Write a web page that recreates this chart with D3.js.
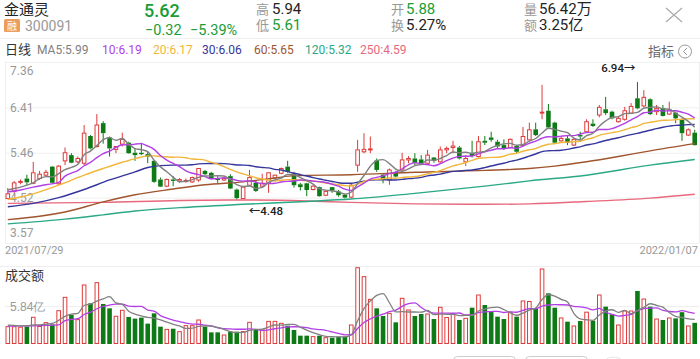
<!DOCTYPE html>
<html><head><meta charset="utf-8">
<script src="https://cdn.jsdelivr.net/npm/d3@7"></script>
<style>
html,body{margin:0;padding:0;background:#fff;}
svg{display:block;font-family:Roboto,"Noto Sans CJK SC",sans-serif;}
</style></head>
<body><svg id="c" width="700" height="359"></svg>
<script>
// ---------------- data ----------------
const opens  = [4.50,4.65,4.84,4.92,4.82,4.92,4.99,5.17,4.81,5.29,5.41,5.27,5.24,5.81,5.59,6.08,5.78,5.53,5.64,5.67,
5.46,5.46,5.43,5.29,4.90,4.76,4.90,4.87,4.86,4.85,4.89,5.08,5.04,4.92,4.89,4.97,4.69,4.50,4.78,4.83,
4.76,4.82,4.93,5.03,5.17,5.03,4.80,4.82,4.69,4.74,4.57,4.74,4.65,4.58,4.53,5.20,5.48,5.52,5.30,5.00,
4.89,5.06,5.10,5.31,5.34,5.32,5.24,5.36,5.27,5.52,5.57,5.57,5.27,5.46,5.38,5.71,5.78,5.69,5.62,5.57,
5.60,5.61,5.73,5.95,6.29,6.34,6.09,5.71,5.76,5.62,5.83,5.90,6.07,6.25,6.37,6.32,6.11,6.16,6.29,6.60,
6.44,6.58,6.32,6.39,6.27,6.30,6.16,5.83,5.88];
const highs  = [4.72,4.87,4.90,5.00,5.27,5.08,5.10,5.18,5.20,5.57,5.45,5.38,6.04,5.83,6.27,6.12,5.80,5.60,5.88,5.69,
5.55,5.67,5.48,5.30,4.94,4.92,4.97,4.93,4.92,4.96,5.14,5.10,5.06,4.97,4.94,5.01,4.71,4.75,5.10,4.89,
5.02,5.05,5.00,5.15,5.29,5.06,4.83,4.83,4.78,4.75,4.66,4.74,4.68,4.60,4.82,5.73,5.87,5.80,5.34,5.03,
5.13,5.08,5.46,5.39,5.45,5.41,5.52,5.37,5.59,5.59,5.71,5.60,5.41,5.71,5.81,5.81,5.90,5.73,5.74,5.76,
5.62,6.00,6.09,6.09,6.88,6.48,6.11,5.81,5.81,5.76,5.90,6.16,6.16,6.46,6.63,6.34,6.23,6.42,6.50,6.94,
6.77,6.60,6.46,6.46,6.53,6.32,6.18,5.97,5.94];
const lows   = [4.49,4.61,4.80,4.78,4.80,4.89,4.95,4.82,4.79,5.20,5.24,5.24,5.20,5.53,5.57,5.65,5.38,5.45,5.59,5.44,
5.29,5.41,5.24,4.83,4.74,4.74,4.76,4.83,4.83,4.83,4.85,4.99,4.90,4.83,4.87,4.70,4.48,4.49,4.76,4.64,
4.74,4.62,4.91,5.01,5.04,4.73,4.67,4.55,4.67,4.54,4.55,4.62,4.54,4.50,4.51,5.06,5.45,5.45,5.06,4.82,
4.79,4.94,5.06,5.24,5.20,5.20,5.20,5.25,5.25,5.45,5.45,5.32,5.18,5.36,5.36,5.62,5.69,5.55,5.52,5.55,
5.45,5.59,5.71,5.81,6.16,5.97,5.64,5.69,5.62,5.60,5.73,5.88,6.00,6.20,6.25,6.16,6.09,6.13,6.27,6.37,
6.41,6.25,6.25,6.22,6.25,6.08,5.71,5.81,5.61];
const closes = [4.60,4.83,4.86,4.84,5.04,5.01,5.05,4.83,5.18,5.46,5.25,5.34,5.87,5.55,6.04,5.87,5.55,5.59,5.74,5.45,
5.41,5.43,5.38,4.85,4.75,4.90,4.87,4.90,4.88,4.94,5.13,5.01,4.92,4.89,4.92,4.71,4.51,4.74,4.94,4.66,
4.82,5.04,4.99,5.13,5.06,4.78,4.74,4.68,4.76,4.55,4.65,4.67,4.57,4.52,4.78,5.52,5.53,5.54,5.10,4.89,
5.10,4.96,5.31,5.34,5.24,5.24,5.41,5.29,5.52,5.55,5.60,5.34,5.34,5.39,5.69,5.67,5.73,5.59,5.55,5.74,
5.48,5.80,5.94,5.83,6.31,5.99,5.67,5.76,5.67,5.74,5.80,6.11,6.02,6.41,6.29,6.18,6.18,6.34,6.43,6.39,
6.62,6.27,6.39,6.23,6.36,6.18,5.87,5.94,5.62];
// turnover, 亿
const amounts = [2.66,2.66,2.58,2.69,4.10,2.69,3.28,3.00,5.12,7.17,
4.46,3.74,9.07,6.25,9.43,6.15,5.48,4.26,5.18,4.16,
3.90,4.05,3.13,4.71,2.66,2.25,2.35,1.90,2.82,2.82,
3.69,2.67,1.79,1.79,1.38,1.90,1.90,1.90,3.33,2.15,
2.15,3.48,3.48,3.18,2.82,2.15,1.28,1.28,1.13,1.28,
0.97,0.97,1.13,1.13,2.92,11.73,10.35,6.86,5.48,4.30,
4.71,3.33,7.02,5.23,4.30,4.61,4.61,3.84,5.64,4.07,
4.61,3.69,3.94,5.58,7.53,5.99,4.97,4.20,3.84,4.89,
4.20,6.61,6.53,5.38,11.53,7.79,5.58,4.00,3.43,2.77,
3.53,4.89,3.58,7.53,5.74,4.56,2.92,5.07,5.07,8.15,
6.91,5.74,3.84,3.69,4.00,3.94,4.89,2.77,3.25];

const ma5Head  = [[0,4.68],[1,4.71],[2,4.74],[3,4.78]];
const ma10Head = [[0,4.64],[2,4.68],[4,4.74],[6,4.79],[8,4.84]];
const ma20Head = [[0,4.48],[4,4.60],[8,4.78],[12,4.99],[15,5.13],[18,5.26]];
const ma30Head = [[0,4.33],[4,4.40],[8,4.52],[12,4.69],[16,4.89],[20,5.06],[22,5.15],[24,5.19],[26,5.20],[28,5.20]];
const ma60  = [[0,4.06],[5,4.13],[9,4.22],[15,4.43],[20,4.58],[26,4.70],[31,4.79],[37,4.85],[42,4.93],[45,4.98],[54,5.00],[64,5.05],[75,5.09],[82,5.13],[86,5.18],[91,5.27],[96,5.38],[101,5.50],[108,5.65]];
const ma120 = [[0,3.97],[9,4.07],[15,4.16],[20,4.24],[27,4.31],[37,4.38],[47,4.44],[54,4.49],[64,4.61],[75,4.76],[82,4.87],[91,4.99],[101,5.20],[108,5.32]];
const ma250 = [[0,4.40],[15,4.42],[27,4.46],[37,4.47],[47,4.45],[54,4.42],[64,4.39],[75,4.38],[82,4.39],[91,4.44],[101,4.51],[108,4.59]];
const volMa5Head  = [[0,2.90],[1,2.85],[2,2.80],[3,2.80]];
const volMa10Head = [[0,2.77],[2,2.78],[4,2.80],[6,2.85],[8,2.95]];

const priceTicks = [3.57, 4.52, 5.46, 6.41, 7.36];
const amountTicks = [5.84];
const dateLabels = ["2021/07/29", "2022/01/07"];
const maLegend = [["MA5:5.99","#808080"],["10:6.19","#b23fe6"],["20:6.17","#f2b63a"],["30:6.06","#35369c"],["60:5.65","#a0552e"],["120:5.32","#2ba886"],["250:4.59","#e8687c"]];
const quote = {name:"金通灵", code:"300091", price:"5.62", chg:"−0.32", pct:"−5.39%", high:"5.94", low:"5.61", open:"5.88", turn:"5.27%", vol:"56.42万", amt:"3.25亿"};
const maxMark = {idx:99, label:"6.94→"};
const minMark = {idx:36, label:"←4.48"};

// ---------------- drawing ----------------
const RED = "#dd3b3b", GREEN = "#0d7a15", GTXT = "#1a9c36";
const svg = d3.select("#c");
const n = closes.length;
const x = d3.scaleLinear().domain([0, n-1]).range([7.8, 694.7]);
const yP = d3.scaleLinear().domain([3.57, 7.36]).range([243, 62]);
const yV = d3.scaleLinear().domain([0, 11.68]).range([344, 268]);
const bw = 4.6;

// header
const T = (xx, yy, s, size, fill, weight, anchor) => svg.append("text").attr("x", xx).attr("y", yy).text(s)
  .attr("font-size", size).attr("fill", fill).attr("font-weight", weight || 400).attr("text-anchor", anchor || "start");
T(4, 15, quote.name, 15, "#222");
svg.append("rect").attr("x", 4).attr("y", 19).attr("width", 16).attr("height", 13).attr("rx", 1.5).attr("fill", "#ec9c5c");
T(12, 29.5, "融", 10, "#fff", 400, "middle");
T(25, 31, quote.code, 14, "#999");
T(144, 16.8, quote.price, 18, GTXT, 500);
T(145, 34.6, quote.chg, 14.5, GTXT);
T(190, 34.6, quote.pct, 14.5, GTXT);
T(256, 13.5, "高", 13, "#999"); T(272, 13.5, quote.high, 15, "#222");
T(256, 30, "低", 13, "#999"); T(272, 30, quote.low, 15, GTXT);
T(391, 13.5, "开", 13, "#999"); T(406, 13.5, quote.open, 15, GTXT);
T(391, 30, "换", 13, "#999"); T(406, 30, quote.turn, 15, "#222");
T(524, 13.5, "量", 13, "#999"); T(539, 13.5, quote.vol, 15, "#222");
T(524, 30, "额", 13, "#999"); T(539, 30, quote.amt, 15, "#222");
svg.append("path").attr("d", "M666,8L682,22M682,8L666,22").attr("stroke", "#aaa").attr("stroke-width", 1.2);
svg.append("line").attr("x1", 0).attr("x2", 700).attr("y1", 38.5).attr("y2", 38.5).attr("stroke", "#eee");

// MA legend
T(5, 54, "日线", 13, "#333");
const legX = [37, 102, 153, 202, 254, 305, 360];
maLegend.forEach((d, i) => T(legX[i], 54, d[0], 12, d[1]));
T(648, 56, "指标", 13, "#666");
svg.append("circle").attr("cx", 685).attr("cy", 51.5).attr("r", 6.5).attr("fill", "none").attr("stroke", "#999").attr("stroke-width", 1);
svg.append("path").attr("d", "M687,48L683.5,51.5L687,55").attr("fill", "none").attr("stroke", "#999").attr("stroke-width", 1);

// price grid + labels via axis
const gAx = svg.append("g").attr("transform", "translate(5,0)")
  .call(d3.axisRight(yP).tickValues(priceTicks).tickSize(694).tickFormat(d => d.toFixed(2)));
gAx.select(".domain").remove();
gAx.selectAll(".tick line").attr("stroke", "#efefef");
gAx.selectAll(".tick text").attr("x", 5).attr("fill", "#999").attr("font-size", 12)
  .attr("font-family", "Roboto, sans-serif")
  .attr("dy", d => d === priceTicks[priceTicks.length-1] ? "1.05em" : (d === priceTicks[0] ? "-0.55em" : "0.34em"));
svg.append("line").attr("x1", 5.5).attr("x2", 5.5).attr("y1", 62).attr("y2", 243).attr("stroke", "#efefef");
svg.append("line").attr("x1", 699.5).attr("x2", 699.5).attr("y1", 62).attr("y2", 243).attr("stroke", "#efefef");

// date labels
T(5, 254, dateLabels[0], 11, "#999");
T(698, 254, dateLabels[1], 11, "#999", 400, "end");

// candles
const idx = d3.range(n);
const up = i => closes[i] >= opens[i];
const gC = svg.append("g");
idx.forEach(i => {
  const cx = x(i), top = yP(Math.max(opens[i], closes[i])), bot = yP(Math.min(opens[i], closes[i]));
  const col = up(i) ? RED : GREEN;
  gC.append("line").attr("x1", cx).attr("x2", cx).attr("y1", yP(highs[i])).attr("y2", top).attr("stroke", col).attr("stroke-width", 1);
  gC.append("line").attr("x1", cx).attr("x2", cx).attr("y1", bot).attr("y2", yP(lows[i])).attr("stroke", col).attr("stroke-width", 1);
  if (up(i)) {
    gC.append("rect").attr("x", cx - bw/2 + 0.5).attr("y", top).attr("width", bw - 1).attr("height", Math.max(bot - top, 1))
      .attr("fill", "#fff").attr("stroke", col).attr("stroke-width", 1);
  } else {
    gC.append("rect").attr("x", cx - bw/2).attr("y", top).attr("width", bw).attr("height", Math.max(bot - top, 1.2)).attr("fill", col);
  }
});

// moving averages
function movAvg(arr, p, head) {
  const out = head.slice();
  for (let i = p - 1; i < arr.length; i++) out.push([i, d3.mean(arr.slice(i - p + 1, i + 1))]);
  return out;
}
const lineP = d3.line().x(d => x(d[0])).y(d => yP(d[1])).curve(d3.curveMonotoneX);
const lines = [
  [ma250, "#e8687c"], [ma120, "#2ba886"], [ma60, "#a0552e"],
  [movAvg(closes, 30, ma30Head), "#35369c"], [movAvg(closes, 20, ma20Head), "#f2b63a"],
  [movAvg(closes, 10, ma10Head), "#b23fe6"], [movAvg(closes, 5, ma5Head), "#808080"]
];
lines.forEach(([d, c]) => svg.append("path").attr("d", lineP(d)).attr("fill", "none").attr("stroke", c).attr("stroke-width", 1.4));

// markers
T(x(maxMark.idx) - 2, yP(highs[maxMark.idx]) - 10, maxMark.label, 11.5, "#222", 500, "end");
T(x(minMark.idx) + 12, yP(lows[minMark.idx]) + 15.5, minMark.label, 11.5, "#222", 500);

// volume panel
svg.append("line").attr("x1", 0).attr("x2", 700).attr("y1", 266.5).attr("y2", 266.5).attr("stroke", "#eee");
T(5, 280, "成交额", 13, "#333");
const gV = svg.append("g").attr("transform", "translate(5,0)")
  .call(d3.axisRight(yV).tickValues(amountTicks).tickSize(694).tickFormat(d => d.toFixed(2) + "亿"));
gV.select(".domain").remove();
gV.selectAll(".tick line").attr("stroke", "#efefef");
gV.selectAll(".tick text").attr("x", 5).attr("fill", "#999").attr("font-size", 12).attr("dy", "0.34em");

idx.forEach(i => {
  const cx = x(i), t = yV(amounts[i]), b = yV(0);
  if (up(i)) {
    svg.append("rect").attr("x", cx - bw/2 + 0.5).attr("y", t).attr("width", bw - 1).attr("height", b - t - 0.5)
      .attr("fill", "#fff").attr("stroke", RED).attr("stroke-width", 1);
  } else {
    svg.append("rect").attr("x", cx - bw/2).attr("y", t).attr("width", bw).attr("height", b - t).attr("fill", GREEN);
  }
});
const lineV = d3.line().x(d => x(d[0])).y(d => yV(d[1])).curve(d3.curveMonotoneX);
svg.append("path").attr("d", lineV(movAvg(amounts, 10, volMa10Head))).attr("fill", "none").attr("stroke", "#b23fe6").attr("stroke-width", 1.3);
svg.append("path").attr("d", lineV(movAvg(amounts, 5, volMa5Head))).attr("fill", "none").attr("stroke", "#808080").attr("stroke-width", 1.3);

// bottom controls (cut off)
svg.append("rect").attr("x", 453.5).attr("y", 356.5).attr("width", 62).attr("height", 20).attr("rx", 4).attr("fill", "none").attr("stroke", "#ccc");
svg.append("rect").attr("x", 525.5).attr("y", 356.5).attr("width", 62).attr("height", 20).attr("rx", 4).attr("fill", "none").attr("stroke", "#ccc");
svg.append("circle").attr("cx", 613.5).attr("cy", 371).attr("r", 14).attr("fill", "none").attr("stroke", "#e4e4e4");
</script></body></html>
